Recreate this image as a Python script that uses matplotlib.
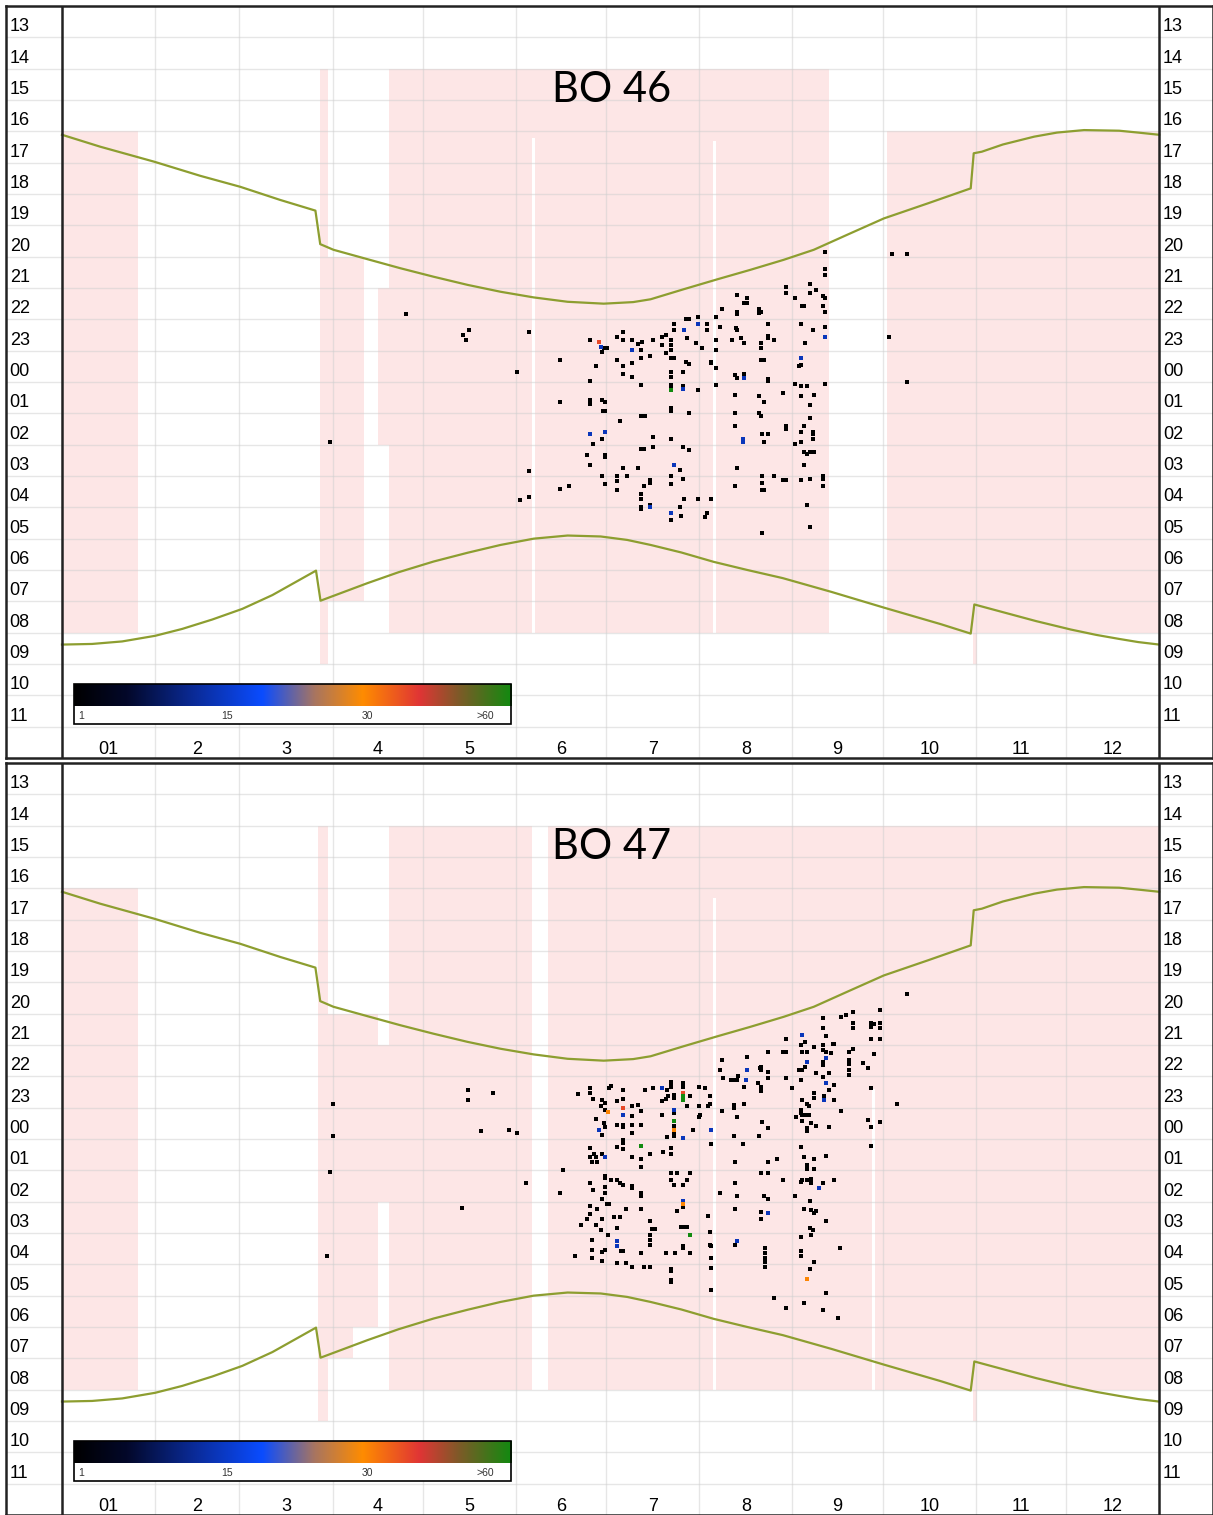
import numpy as np
import matplotlib.pyplot as plt
from matplotlib.colors import LinearSegmentedColormap
from matplotlib.patches import Rectangle

# ---- axes / labels ----
month_starts = [31, 59, 90, 120, 151, 181, 212, 243, 273, 304, 334]
month_mids = [15.5, 45, 74.5, 105, 135.5, 166, 196.5, 227.5, 258, 288.5, 319, 349.5]
month_labels = ["01", "2", "3", "4", "5", "6", "7", "8", "9", "10", "11", "12"]
hour_rows = list(range(13, 36))  # 13:00 .. 11:00 next day

# ---- sunset / sunrise (day of year, hour; hours > 24 are after midnight) ----
sunset_day = [0, 12.7, 30.7, 46, 59.3, 72.6, 84.3, 85.9, 90.3, 101.6, 112.6, 123.6, 134.9,
              145.9, 156.9, 168.2, 180.2, 190, 195.8, 206.8, 218.1, 229, 240.1, 250.1, 261.7,
              273.4, 288, 302.3, 303.3, 306, 313, 323.4, 331, 340, 351.7, 358, 365]
sunset_hour = [16.11, 16.49, 16.97, 17.42, 17.77, 18.19, 18.53, 19.6, 19.78, 20.08, 20.37, 20.64,
               20.9, 21.12, 21.3, 21.44, 21.5, 21.45, 21.36, 21.04, 20.72, 20.42, 20.1, 19.78,
               19.28, 18.78, 18.3, 17.82, 16.7, 16.65, 16.42, 16.17, 16.04, 15.96, 15.98, 16.04,
               16.11]
sunrise_day = [0, 10, 20, 31, 40, 50, 60, 70, 79.3, 84.5, 86, 101.6, 112, 123.6, 134.9, 145.9,
               156.9, 168.2, 179.2, 188, 195.8, 206, 216.8, 228, 239.8, 256, 273.4, 292.4, 302.3,
               303.5, 312.4, 324, 335.6, 344, 351.7, 358, 365]
sunrise_hour = [32.38, 32.36, 32.28, 32.1, 31.88, 31.58, 31.24, 30.8, 30.3, 30.02, 30.98, 30.42,
                30.07, 29.73, 29.45, 29.2, 29.0, 28.9, 28.93, 29.04, 29.2, 29.44, 29.74, 30.0,
                30.26, 30.7, 31.2, 31.73, 32.03, 31.1, 31.33, 31.63, 31.9, 32.07, 32.2, 32.3,
                32.38]

# ---- recording periods (day0, day1, hour0, hour1) ----
bo46_rec = [(0, 25.3, 16, 32), (85.9, 88.6, 14, 33), (88.6, 100.6, 20, 31),
            (105.2, 108.9, 21, 26), (108.9, 255, 14, 32), (274.4, 365, 16, 32),
            (303, 304.5, 32, 33)]
bo46_gaps = [(156.3, 157.3, 16.2, 32), (216.5, 217.5, 16.3, 32)]
bo47_rec = [(0, 25.3, 16, 32), (85, 88.6, 14, 33), (88.6, 96.9, 20, 31),
            (96.9, 105.2, 20, 30), (105.2, 108.9, 21, 26), (108.9, 156.3, 14, 32),
            (161.8, 365, 14, 32), (303, 304.5, 32, 33)]
bo47_gaps = [(216.5, 217.5, 16.3, 32), (269.3, 270.3, 22.4, 32)]

# ---- detections BO 46 (day, hour), grouped by value ----
bo46_v1 = [
    (253.8, 19.84), (253.8, 20.39), (253.8, 20.58), (240.8, 20.96), (240.8, 21.16), (248.9, 20.87),
    (248.9, 21.16), (250.9, 21.06), (224.7, 21.22), (227.8, 21.32), (243.9, 21.32), (253, 21.25),
    (253.8, 21.31), (226.9, 21.48), (227.8, 21.47), (219.7, 21.66), (224.7, 21.75), (224.7, 21.82),
    (231.9, 21.67), (232.5, 21.75), (231.8, 21.79), (246.3, 21.57), (246.9, 21.57), (253, 21.59),
    (253.8, 21.75), (207.5, 21.99), (208.6, 21.99), (211.7, 21.91), (217.7, 21.91), (203.6, 22.15),
    (203.6, 22.33), (214.7, 22.14), (214.7, 22.33), (218.9, 22.25), (224.1, 22.28), (224.7, 22.33),
    (234.7, 22.15), (245.8, 22.14), (249.8, 22.33), (253.8, 22.25), (186.6, 22.39), (175.6, 22.65),
    (180.3, 22.92), (181.4, 22.9), (179.7, 23.03), (184.7, 22.57), (186.7, 22.65), (189.7, 22.65),
    (191.6, 22.78), (193.1, 22.71), (192.7, 22.97), (196.7, 22.65), (199.5, 22.55), (200.8, 22.49),
    (202.7, 22.65), (202.7, 22.81), (202.7, 22.97), (199.7, 22.81), (207.8, 22.58), (210.8, 22.74),
    (212.8, 22.9), (217.7, 22.65), (217.7, 22.97), (222.8, 22.65), (225.8, 22.58), (226.9, 22.74),
    (232.7, 22.74), (232.7, 22.92), (234.7, 22.53), (234.7, 22.6), (236.7, 22.65), (247.1, 22.74),
    (165.6, 23.31), (184.7, 23.31), (186.7, 23.48), (189.7, 23.4), (192.7, 23.24), (195.6, 23.16),
    (202.7, 23.24), (203.6, 23.24), (200.8, 23.08), (207.7, 23.35), (208.6, 23.42), (215.8, 23.35),
    (215.8, 23.4), (217.7, 23.56), (232.7, 23.29), (233.6, 23.29), (245.2, 23.48), (245.8, 23.45),
    (177.6, 23.48), (186.7, 23.74), (189.7, 23.83), (202.7, 23.67), (202.7, 23.83), (206.7, 23.67),
    (223.8, 23.77), (224.7, 23.86), (226.9, 23.74), (234.7, 23.91), (234.7, 23.98), (175.6, 23.98),
    (192.5, 24.09), (202.7, 24.09), (202.7, 24.16), (206.7, 24.14), (211.7, 24.25), (217.7, 24.09),
    (243.9, 24.07), (246, 24.14), (248, 24.14), (253.8, 24.07), (175.6, 24.57), (175.6, 24.7),
    (179.7, 24.57), (180.6, 24.65), (180.1, 24.91), (180.8, 24.91), (165.6, 24.65), (202.7, 24.83),
    (202.7, 24.92), (223.8, 24.41), (231.9, 24.46), (233.6, 24.65), (239.9, 24.34), (246, 24.46),
    (248.9, 24.73), (250, 24.41), (192.5, 25.07), (193.8, 25.07), (208.6, 24.99), (223.8, 24.99),
    (231.9, 24.99), (232.7, 25.07), (248.9, 25.15), (185.6, 25.24), (223.8, 25.4), (240.8, 25.42),
    (240.8, 25.49), (246.9, 25.4), (246, 25.58), (249.7, 25.58), (249.7, 25.65), (232.8, 25.65),
    (234.9, 25.65), (176.6, 25.98), (179.7, 25.82), (196.7, 25.74), (202.7, 25.82), (233.6, 25.92),
    (243.9, 25.98), (245.8, 25.92), (249.7, 25.81), (174.5, 26.32), (180.6, 26.32), (180.6, 26.4),
    (192.5, 26.13), (193.6, 26.13), (196.7, 26.06), (206.7, 26.06), (208.6, 26.16), (246.9, 26.22),
    (248, 26.29), (248.9, 26.24), (250.2, 26.22), (175.6, 26.64), (186.7, 26.75), (184.7, 26.99),
    (187.8, 26.99), (191.7, 26.75), (202.7, 26.99), (205.6, 26.82), (224.7, 26.75), (246.9, 26.64),
    (179.7, 26.99), (180.6, 27.25), (184.7, 27.17), (195.6, 27.14), (195.6, 27.23), (202.7, 27.25),
    (206.7, 27.09), (223.8, 27.33), (232.8, 26.99), (232.8, 27.23), (232.8, 27.44), (233.6, 27.46),
    (236.7, 26.99), (239.9, 27.14), (240.8, 27.14), (245.8, 27.14), (248.9, 27.09), (253, 27.01),
    (253, 27.09), (253, 27.33), (165.6, 27.41), (168.6, 27.33), (184.7, 27.46), (193.6, 27.33),
    (192.5, 27.57), (192.5, 27.74), (192.5, 27.99), (192.5, 28.05), (195.6, 27.92), (202.7, 28.42),
    (205.6, 27.99), (205.8, 28.27), (206.9, 27.74), (211.7, 27.74), (215.8, 27.74), (214.7, 28.18),
    (213.8, 28.32), (232.8, 28.82), (248, 27.92), (248.9, 28.64), (114.5, 21.82), (135.5, 22.33),
    (133.4, 22.49), (134.4, 22.65), (155.5, 22.41), (151.5, 23.67), (89.3, 25.92), (155.5, 26.83),
    (152.5, 27.75), (155.5, 27.67), (276.1, 19.92), (281.1, 19.92), (275, 22.57), (281.1, 24.0),
]
bo46_v14 = [(206.9, 22.33), (211.7, 22.14), (253.8, 22.55), (179.2, 22.87), (189.7, 22.97),
            (245.8, 23.24), (226.9, 23.87), (206.7, 24.23), (175.6, 25.65), (180.6, 25.58),
            (226.6, 25.82), (226.6, 25.9), (203.6, 26.64), (195.6, 27.99), (202.7, 28.18)]
bo46_v30 = []
bo46_v38 = [(178.6, 22.71)]
bo46_v60 = [(202.7, 24.25)]

# ---- detections BO 47 ----
bo47_v1 = [
    (272.1, 19.88), (253, 20.14), (259.1, 20.11), (260.8, 20.04), (263, 19.96), (263, 20.3),
    (263, 20.46), (269.1, 20.3), (269.1, 20.41), (270.2, 20.33), (272.1, 20.3), (272.1, 20.46),
    (253, 20.46), (254.1, 20.71), (240.8, 20.81), (247.1, 20.92), (245.8, 21.0), (269.1, 20.81),
    (272.1, 20.81), (250.2, 21.05), (253, 21.0), (253, 21.15), (254.1, 21.21), (255.8, 21.26),
    (256.4, 20.96), (256.9, 20.96), (263, 21.13), (261.9, 21.21), (270.2, 21.28), (234.7, 21.21),
    (239.7, 21.21), (240.8, 21.21), (246.3, 21.21), (248, 21.21), (219.7, 21.47), (228, 21.39),
    (253, 21.53), (253, 21.63), (261.9, 21.47), (261.9, 21.6), (266.3, 21.56), (268, 21.74),
    (247.1, 21.69), (245.2, 21.79), (246.3, 21.79), (232.7, 21.69), (232.7, 21.79), (232.2, 21.73),
    (234.9, 21.85), (234.9, 22.06), (218.9, 21.79), (220, 22.06), (224.9, 21.98), (240.8, 22.06),
    (250.8, 21.88), (255.2, 21.88), (253, 22.01), (261.9, 21.81), (261.9, 21.95), (222.5, 22.13),
    (223.6, 22.13), (224.7, 22.13), (245.8, 22.13), (256.9, 22.27), (226.9, 22.33), (231.4, 22.22),
    (232.7, 22.34), (232.7, 22.48), (243, 22.38), (269.1, 22.38), (255.2, 22.43), (250, 22.54),
    (250, 22.7), (253.5, 22.64), (256.9, 22.75), (246.3, 22.75), (248, 22.88), (248.5, 22.96),
    (259.1, 23.12), (277.9, 22.89), (223.6, 22.91), (223.6, 23.01), (226.9, 22.88), (219.7, 23.12),
    (224.7, 23.3), (245.8, 23.07), (245.8, 23.17), (246.3, 23.23), (247.4, 23.23), (248.5, 23.23),
    (244.1, 23.3), (246.3, 23.44), (249.1, 23.49), (250.8, 23.58), (248, 23.65), (248, 23.73),
    (255.2, 23.63), (268, 23.39), (269.1, 23.63), (272.1, 23.47), (232.8, 23.47), (231.9, 23.9),
    (234.7, 23.65), (223.6, 23.9), (269.1, 24.22), (226.7, 24.15),
    (171.6, 22.56), (175.6, 22.38), (175.8, 22.54), (181.9, 22.36), (182.7, 22.3), (186.7, 22.45),
    (193.8, 22.45), (196.7, 22.38), (201.4, 22.43), (202.7, 22.34), (202.7, 22.17), (202.7, 22.24),
    (206.7, 22.22), (206.7, 22.34), (211.9, 22.33), (213.8, 22.38), (215.6, 22.64), (176.7, 22.73),
    (179.7, 22.75), (180.8, 22.84), (184.7, 22.8), (186.7, 22.73), (189.7, 22.96), (191.7, 22.91),
    (199.7, 22.8), (200.8, 22.73), (201.7, 22.64), (203.6, 22.59), (203.6, 22.7), (207.8, 22.94),
    (208.9, 22.64), (211.9, 22.96), (214.9, 22.96), (215.6, 22.89), (179.2, 22.96), (180.5, 23.06),
    (189.7, 23.28), (192.7, 23.12), (199.7, 23.22), (203.6, 23.17), (212.1, 23.23), (211.9, 23.3),
    (177.7, 23.36), (180.3, 23.49), (184.7, 23.54), (186.7, 23.54), (186.7, 23.62), (192.7, 23.54),
    (189.7, 23.54), (189.7, 23.81), (203.6, 23.6), (203.6, 23.79), (203.6, 23.9), (210, 23.71),
    (179.5, 23.87), (180.5, 23.62), (201.1, 23.94), (186.7, 24.03), (186.7, 24.13), (184.7, 24.24),
    (186.7, 24.32), (195.5, 24.47), (199.8, 24.4), (202.7, 24.29), (202.7, 24.47), (215.8, 24.15),
    (175.6, 24.29), (175.6, 24.56), (176.9, 24.47), (177.5, 24.56), (176.4, 24.72), (178.1, 24.72),
    (179.7, 24.47), (189.7, 24.56), (192.7, 24.64), (192.7, 24.88), (166.6, 24.98), (154.5, 25.39),
    (165.6, 25.71), (148.6, 23.71), (151.4, 23.82), (180.6, 25.17), (180.6, 25.25), (182.7, 25.3),
    (184.7, 25.3), (185.6, 25.39), (186.7, 25.46), (175.6, 25.39), (176.7, 25.64), (180.6, 25.53),
    (180.6, 25.73), (179.7, 25.92), (189.7, 25.49), (189.7, 25.57), (192.7, 25.71), (192.7, 25.81),
    (202.7, 25.07), (204.7, 25.07), (208.9, 25.07), (202.7, 25.3), (203.6, 25.46), (206.7, 25.46),
    (207.8, 25.3), (206.7, 26.17), (204.7, 26.31), (181.2, 26.07), (181.9, 26.07), (178, 26.24),
    (175.8, 26.13), (175.6, 26.38), (174.7, 26.56), (172.5, 26.74), (179.7, 26.56), (177.5, 26.74),
    (179.2, 26.9), (181.6, 27.06), (183.6, 26.49), (185.6, 26.49), (184.7, 26.84), (187.7, 26.24),
    (192.7, 26.24), (195.6, 26.63), (196.4, 26.87), (197.2, 26.87), (205.8, 26.81), (206.9, 26.81),
    (207.8, 26.81), (214.9, 26.47), (195.6, 27.06), (195.6, 27.22), (195.6, 27.37), (215.6, 26.97),
    (215.6, 27.37), (176.4, 27.22), (176.4, 27.53), (185.8, 27.56), (186.7, 27.56), (179.7, 27.62),
    (180.8, 27.53), (179.7, 27.88), (170.5, 27.73), (176.4, 27.8), (184.7, 27.96), (187.7, 27.96),
    (189.7, 28.07), (192.7, 27.64), (193.6, 28.07), (195.6, 28.07), (200.8, 27.64), (203.8, 27.64),
    (206.7, 27.41), (206.7, 27.48), (208.9, 27.64), (202.7, 28.15), (202.7, 28.22), (202.7, 28.49),
    (202.7, 28.57), (215.8, 27.41), (215.8, 27.8), (215.8, 28.12), (215.8, 28.81),
    (223.8, 24.72), (223.8, 25.39), (224.7, 25.81), (223.8, 26.24), (234.7, 24.72), (234.9, 25.07),
    (232.7, 25.07), (237.8, 24.64), (218.9, 25.71), (233.6, 25.81), (234.7, 25.92), (232.7, 26.34),
    (232.7, 26.55), (223.8, 27.37), (233.8, 27.48), (233.8, 27.64), (233.8, 27.8), (233.8, 27.94),
    (233.8, 28.07), (240, 25.3), (243.8, 25.81), (245.8, 25.36), (246.3, 25.3), (248, 25.3),
    (249.1, 25.28), (249.1, 25.39), (253, 25.39), (256.9, 25.3), (245.8, 24.24), (246.9, 24.56),
    (248, 24.82), (250, 24.64), (247.8, 24.96), (250, 24.96), (254.1, 24.54), (248.9, 25.99),
    (246.9, 26.24), (249.1, 26.26), (250.8, 26.31), (250.2, 26.36), (254.1, 26.63), (248.9, 26.84),
    (249.7, 26.92), (249.1, 27.06), (246, 27.13), (258.9, 27.48), (245.8, 27.56), (245.8, 27.73),
    (250, 27.91), (248.9, 28.15), (254.1, 28.9), (236.9, 29.06), (240.8, 29.39), (246.9, 29.23),
    (253, 29.47), (258, 29.71),
    (281.1, 19.37), (134.9, 22.43), (134.9, 22.75), (143.5, 22.53), (139.5, 23.74), (133.2, 26.19),
    (90.3, 22.88), (90.3, 23.89), (89.3, 25.05), (88.3, 27.73),
]
bo47_v14 = [(246.3, 20.68), (254.1, 21.42), (248, 21.53), (228, 21.79), (227.5, 22.13),
            (254.1, 22.22), (253.5, 22.75), (199.7, 22.38), (186.7, 23.22), (203.6, 23.07),
            (215.8, 23.71), (178.6, 23.71), (206.7, 23.97), (180.6, 24.56), (206.7, 25.97),
            (234.7, 26.36), (224.7, 27.24), (184.7, 27.24), (184.7, 27.43), (251.9, 25.57)]
bo47_v30 = [(181.6, 23.14), (203.6, 23.71), (206.7, 26.07), (247.8, 28.47)]
bo47_v38 = [(186.7, 23.01), (206.7, 22.52)]
bo47_v60 = [(206.7, 22.64), (206.7, 22.75), (203.6, 23.44), (192.7, 24.22), (208.8, 27.07)]

# ---- colour scale ----
cbar_values = [1, 15, 30, 60]
cbar_labels = ["1", "15", "30", ">60"]
cbar_pos = [0.017, 0.35, 0.67, 0.94]

cmap = LinearSegmentedColormap.from_list("det", [
    (0.0, "#000000"), (0.12, "#03082a"), (0.27, "#0a2a95"), (0.43, "#0a4cff"),
    (0.55, "#a87560"), (0.66, "#ff8c00"), (0.79, "#e03535"), (0.88, "#7e5a28"),
    (1.0, "#128a10")])

PINK = "#fde6e6"
GRID = "#cfcfcf"
SUN = "#8d9e30"
FONT = "Liberation Sans"

XL, XR = -18.63, 382.9


def val_color(v):
    return cmap(np.interp(v, cbar_values, [0.0, 0.35, 0.67, 1.0]))


def draw_panel(ax, title, rec, gaps, groups):
    ax.set_xlim(XL, XR)
    ax.set_ylim(36, 12)
    ax.set_xticks([])
    ax.set_yticks([])
    for s in ax.spines.values():
        s.set_linewidth(1.8)
        s.set_color("#222222")

    for d0, d1, h0, h1 in rec:
        ax.add_patch(Rectangle((d0, h0), d1 - d0, h1 - h0, color=PINK, lw=0, zorder=1))
    for d0, d1, h0, h1 in gaps:
        ax.add_patch(Rectangle((d0, h0), d1 - d0, h1 - h0, color="white", lw=0, zorder=1.5))

    for h in hour_rows:
        ax.axhline(h, color=GRID, lw=1, alpha=0.5, zorder=2)
    for d in month_starts:
        ax.axvline(d, color=GRID, lw=1, alpha=0.5, zorder=2)
    ax.axvline(0, color="#222222", lw=1.8, zorder=6)
    ax.axvline(365, color="#222222", lw=1.8, zorder=6)

    ax.plot(sunset_day, sunset_hour, color=SUN, lw=1.6, zorder=3)
    ax.plot(sunrise_day, sunrise_hour, color=SUN, lw=1.6, zorder=3)

    for v, pts in groups:
        if not pts:
            continue
        arr = np.array(pts)
        ax.scatter(arr[:, 0], arr[:, 1], s=6, marker="s", color=val_color(v),
                   linewidths=0, zorder=4)

    # hour labels in the side columns
    for h in hour_rows:
        lab = f"{h % 24:02d}"
        ax.text(-17.4, h - 0.33, lab, ha="left", va="center", fontsize=13, family=FONT)
        ax.text(366.2, h - 0.33, lab, ha="left", va="center", fontsize=13, family=FONT)
    for d, lab in zip(month_mids, month_labels):
        ax.text(d, 35.73, lab, ha="center", va="center", fontsize=13, family=FONT)

    ax.text(182.8, 14.68, title, ha="center", va="center", fontsize=30, family="Lato")

    # colour bar
    x0, x1 = 4.0, 149.5
    grad = np.linspace(0, 1, 256)[None, :]
    ax.imshow(grad, cmap=cmap, extent=(x0, x1, 34.33, 33.63), aspect="auto", zorder=5,
              interpolation="bilinear")
    ax.add_patch(Rectangle((x0, 34.33), x1 - x0, 0.6, facecolor="white", lw=0, zorder=5))
    ax.add_patch(Rectangle((x0, 33.63), x1 - x0, 1.3, fill=False, ec="black", lw=1.2, zorder=6))
    for p, lab in zip(cbar_pos, cbar_labels):
        ax.text(x0 + p * (x1 - x0), 34.65, lab, ha="center", va="center",
                fontsize=7.5, color="#333333", family=FONT, zorder=7)
    ax.set_xlim(XL, XR)
    ax.set_ylim(36, 12)


fig = plt.figure(figsize=(12.13, 15.15), dpi=100)
W, H = 1213, 1515
ax1 = fig.add_axes([6 / W, 1 - 758 / H, (W - 6) / W, 752 / H])
ax2 = fig.add_axes([6 / W, 0, (W - 6) / W, 752 / H])

draw_panel(ax1, "BO 46", bo46_rec, bo46_gaps,
           [(1, bo46_v1), (14, bo46_v14), (30, bo46_v30), (38, bo46_v38), (60, bo46_v60)])
draw_panel(ax2, "BO 47", bo47_rec, bo47_gaps,
           [(1, bo47_v1), (14, bo47_v14), (30, bo47_v30), (38, bo47_v38), (60, bo47_v60)])

fig.savefig("out.png", dpi=100)
